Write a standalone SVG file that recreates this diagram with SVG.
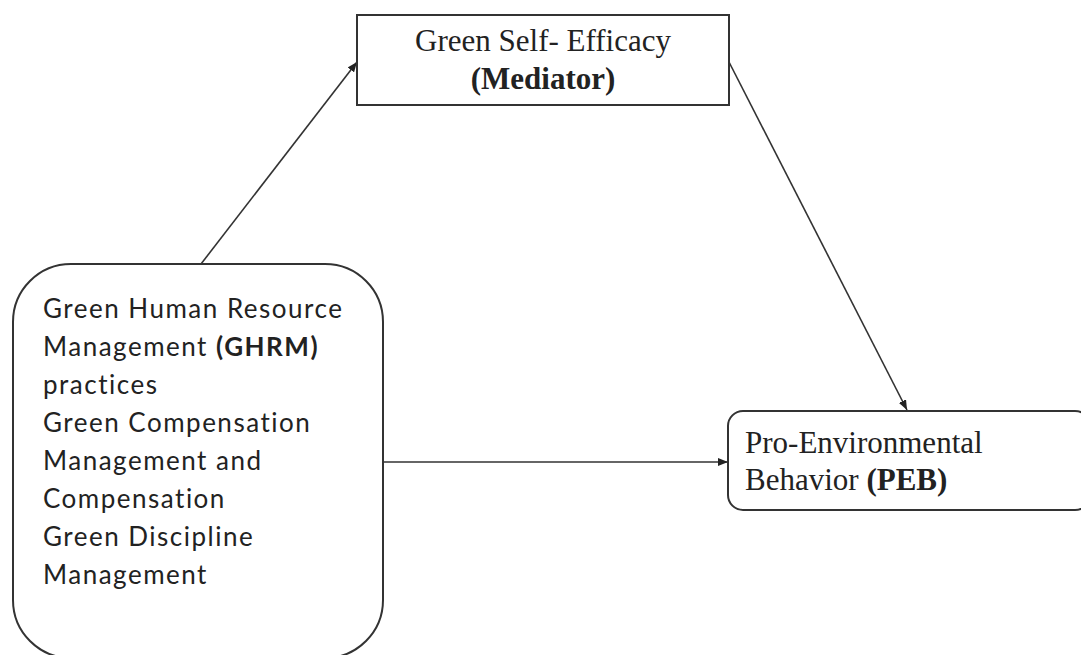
<svg xmlns="http://www.w3.org/2000/svg" width="1081" height="655" viewBox="0 0 1081 655">
<style>
.box{fill:#fff;stroke:#333;stroke-width:2}
.serif{font-family:"Liberation Serif","Times New Roman",serif;font-size:31px;fill:#222}
.sans{font-family:Lato,"Open Sans",sans-serif;font-size:26px;letter-spacing:1.5px;fill:#222;font-variant-ligatures:none}
.b{font-weight:bold}
.conn{stroke:#333;stroke-width:1.6;fill:none;marker-end:url(#ah)}
</style>
<defs>
<marker id="ah" viewBox="0 0 10 8" refX="10" refY="4" markerWidth="10" markerHeight="8" markerUnits="userSpaceOnUse" orient="auto">
<path d="M0,0 L10,4 L0,8 Z" fill="#222"/>
</marker>
</defs>
<rect width="1081" height="655" fill="#fff"/>
<g id="connectors">
<line class="conn" x1="201" y1="264" x2="357" y2="62"/>
<line class="conn" x1="729" y1="62" x2="907" y2="410"/>
<line class="conn" x1="383" y1="462" x2="728" y2="462"/>
</g>
<g id="mediator">
<rect class="box" x="357" y="15" width="372" height="90"/>
<text class="serif" x="543" y="51" text-anchor="middle">Green Self- Efficacy</text>
<text class="serif b" x="543" y="89" text-anchor="middle">(Mediator)</text>
</g>
<g id="ghrm">
<rect class="box" x="13" y="264" width="370" height="394" rx="58" ry="58"/>
<text class="sans" x="43">
<tspan x="43" y="318">Green Human Resource</tspan>
<tspan x="43" y="356">Management <tspan class="b">(GHRM)</tspan></tspan>
<tspan x="43" y="394">practices</tspan>
<tspan x="43" y="432">Green Compensation</tspan>
<tspan x="43" y="470">Management and</tspan>
<tspan x="43" y="508">Compensation</tspan>
<tspan x="43" y="546">Green Discipline</tspan>
<tspan x="43" y="584">Management</tspan>
</text>
</g>
<g id="peb">
<rect class="box" x="728" y="411" width="362" height="99" rx="15" ry="15"/>
<text class="serif" x="745" y="453">Pro-Environmental</text>
<text class="serif" x="745" y="490">Behavior <tspan class="b">(PEB)</tspan></text>
</g>
</svg>
